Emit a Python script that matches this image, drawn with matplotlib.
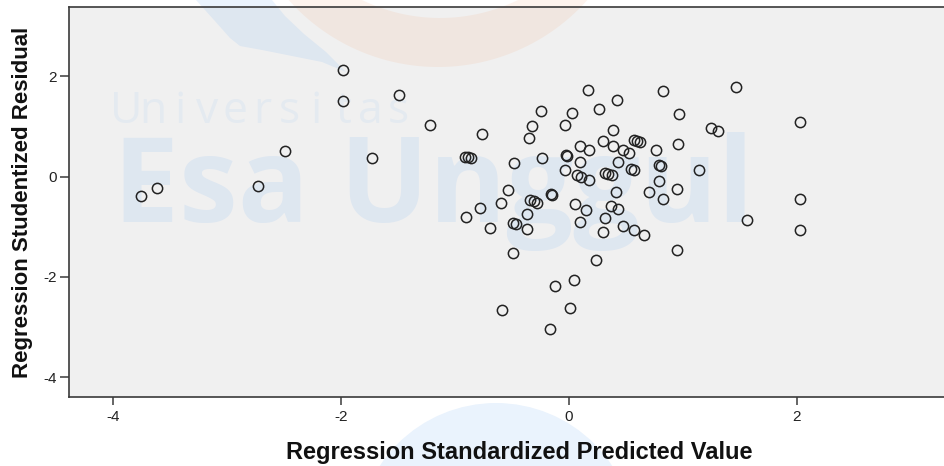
import numpy as np
import matplotlib
matplotlib.use("Agg")
import matplotlib.pyplot as plt
from matplotlib.transforms import Affine2D
from matplotlib.patches import Circle, Polygon, PathPatch
from matplotlib.path import Path

# ---------------- data ----------------
pred = [-1.986, -1.986, -1.494, -2.49, -1.728, -2.73, -3.616, -3.756, -1.225, -0.762,
        -0.91, -0.89, -0.86, -0.479, -0.239, -0.244, -0.323, -0.353, 0.028, -0.033,
        0.165, 0.259, 0.423, 0.824, 0.964, 0.385, 0.297, 0.385, 0.566, 0.595,
        0.619, 0.472, 0.525, 0.765, 0.958, 0.095, 0.171, -0.031, -0.016, 0.098,
        -0.033, 0.426, 0.072, 0.107, 0.171, 0.312, 0.341, 0.376, 0.546, 0.569,
        0.788, 0.809, 1.137, 0.792, 0.701, 0.946, 0.824, 0.408, -0.537, -0.595,
        -0.786, -0.903, -0.698, -0.347, -0.309, -0.279, -0.156, -0.148, -0.367, -0.493,
        -0.464, -0.367, 0.054, 0.145, 0.095, 0.320, 0.367, 0.432, 0.297, 0.478,
        0.569, 0.657, 1.468, 1.248, 1.306, 2.03, 2.03, 1.561, 2.03, -0.493,
        0.239, 0.946, 0.04, -0.121, -0.587, 0.011, -0.171]
resid = [2.13, 1.506, 1.626, 0.504, 0.378, -0.193, -0.227, -0.392, 1.036, 0.857,
         0.39, 0.38, 0.36, 0.271, 0.365, 1.307, 1.016, 0.769, 1.267, 1.022,
         1.733, 1.347, 1.534, 1.705, 1.241, 0.922, 0.703, 0.610, 0.737, 0.709,
         0.689, 0.524, 0.47, 0.524, 0.643, 0.604, 0.524, 0.424, 0.41, 0.299,
         0.125, 0.291, 0.04, -0.008, -0.074, 0.08, 0.06, 0.04, 0.159, 0.125,
         0.239, 0.205, 0.125, -0.094, -0.30, -0.247, -0.438, -0.307, -0.273, -0.518,
         -0.625, -0.811, -1.024, -0.458, -0.492, -0.518, -0.339, -0.359, -0.737, -0.924,
         -0.95, -1.05, -0.538, -0.657, -0.904, -0.825, -0.586, -0.645, -1.10, -0.984,
         -1.07, -1.155, 1.773, 0.962, 0.908, 1.088, -0.446, -0.87, -1.056, -1.522,
         -1.654, -1.454, -2.052, -2.185, -2.65, -2.624, -3.042]
x_ticks = [-4, -2, 0, 2]
y_ticks = [-4, -2, 0, 2]
x_label = "Regression Standardized Predicted Value"
y_label = "Regression Studentized Residual"
wm_small = "Universitas"
wm_big = "Esa Unggul"

# ---------------- figure ----------------
W, H = 944, 466
fig = plt.figure(figsize=(W / 100, H / 100), dpi=100, facecolor="white")
ax = fig.add_axes([69 / W, (H - 397) / H, (970 - 69) / W, (397 - 7.3) / H])
ax.set_facecolor("#f0f0f0")

# pixel transform (x from left, y from top) for the watermark overlay
px = Affine2D().scale(1, -1).translate(0, H)
blue = (150 / 255, 195 / 255, 245 / 255)
orange = (245 / 255, 160 / 255, 110 / 255)

def ring(cx, cy, r_out, r_in, cx2, cy2, n=200):
    t = np.linspace(0, 2 * np.pi, n)
    outer = np.column_stack([cx + r_out * np.cos(t), cy + r_out * np.sin(t)])
    inner = np.column_stack([cx2 + r_in * np.cos(-t), cy2 + r_in * np.sin(-t)])
    verts = np.vstack([outer, inner])
    codes = np.full(len(verts), Path.LINETO)
    codes[0] = Path.MOVETO
    codes[n] = Path.MOVETO
    return Path(verts, codes)

# orange crescent at top
ax.add_patch(PathPatch(ring(438, -133, 200, 178, 440, -160), transform=px,
                       facecolor=orange, alpha=0.12, edgecolor="none",
                       clip_on=False, zorder=0.6))
# blue swoosh
sw = [(196, 0), (214, 20), (230, 38), (240, 46), (262, 50), (292, 56),
      (322, 62), (346, 72), (326, 52), (304, 34), (285, 16), (272, 0)]
ax.add_patch(Polygon(sw, closed=True, transform=px, facecolor=blue, alpha=0.2,
                     edgecolor="none", clip_on=False, zorder=0.6))
# blue circle at bottom
ax.add_patch(Circle((496, 542), 139, transform=px, facecolor=blue, alpha=0.2,
                    edgecolor="none", clip_on=False, zorder=0.6))
# watermark texts
for i, ch in enumerate(wm_small):
    ax.text(126 + 27.2 * i, 123, ch, transform=px, fontsize=32, family="Open Sans",
            color=blue, alpha=0.13, ha="center", va="baseline", clip_on=False,
            zorder=0.6)
ax.text(113, 222, wm_big, transform=px, fontsize=85, family="Open Sans",
        weight="bold", color=blue, alpha=0.2, ha="left", va="baseline",
        clip_on=False, zorder=0.6)

# ---------------- data marks ----------------
ax.plot(pred, resid, linestyle="none", marker="o", markersize=7.4,
        markerfacecolor="none", markeredgecolor="#222222", markeredgewidth=1.1,
        zorder=3)

ax.set_xlim(-4.39, 3.52)
ax.set_ylim(-4.39, 3.37)
ax.set_xticks(x_ticks)
ax.set_yticks(y_ticks)
ax.set_xticklabels([str(v) for v in x_ticks])
ax.set_yticklabels([str(v) for v in y_ticks])

for s in ax.spines.values():
    s.set_color("#3a3a3a")
    s.set_linewidth(1.2)
ax.spines["right"].set_visible(False)

ax.tick_params(axis="x", direction="out", length=6, width=1.1, color="#3a3a3a",
               pad=3.5, labelsize=11, labelcolor="#222222")
ax.tick_params(axis="y", direction="out", length=6.5, width=1.1, color="#3a3a3a",
               pad=2.5, labelsize=11, labelcolor="#222222")
for lab in ax.get_xticklabels() + ax.get_yticklabels():
    lab.set_family("Liberation Sans")

ax.set_xlabel(x_label, family="Liberation Sans", weight="bold", fontsize=17,
              color="#111111", labelpad=12)
ax.set_ylabel(y_label, family="Liberation Sans", weight="bold", fontsize=16,
              color="#111111", labelpad=7)

fig.savefig("out.png", dpi=100, facecolor="white")
